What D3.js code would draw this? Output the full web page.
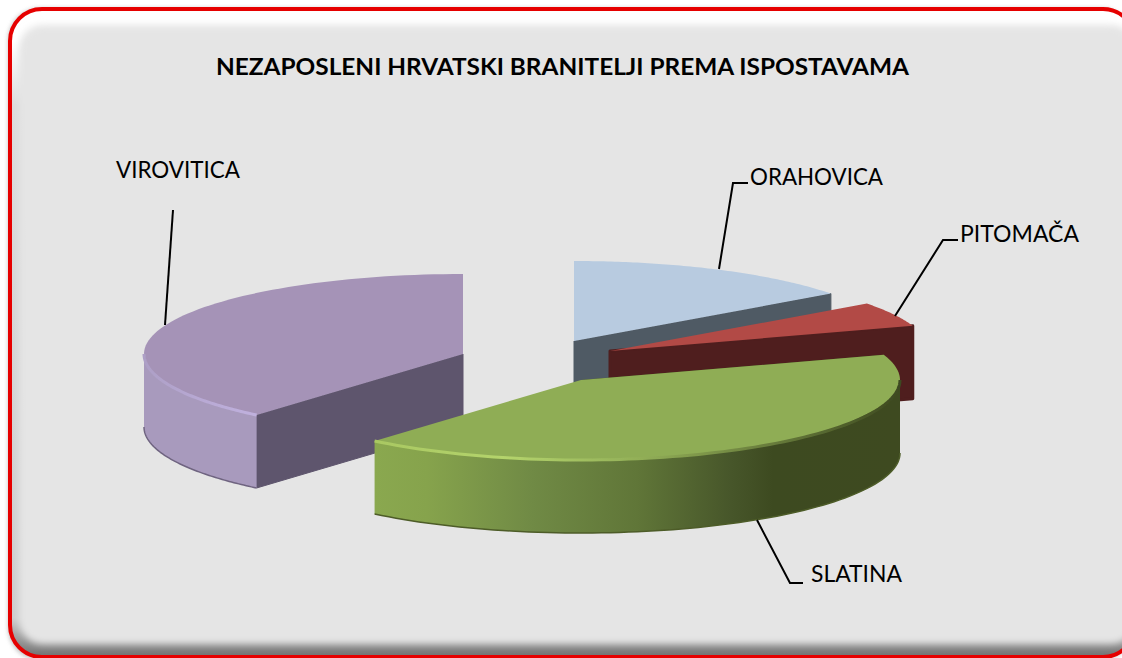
<!DOCTYPE html>
<html>
<head>
<meta charset="utf-8">
<script src="https://cdn.jsdelivr.net/npm/d3@7"></script>
<style>
html, body { margin: 0; padding: 0; background: #fff; overflow: hidden; }
text { font-family: Lato, "Open Sans", sans-serif; fill: #000; }
</style>
</head>
<body>
<div id="chart"></div>
<script>
var w = 1122;
var h = 658;

var chartTitle = "NEZAPOSLENI HRVATSKI BRANITELJI PREMA ISPOSTAVAMA";
var labels = ["ORAHOVICA", "PITOMAČA", "SLATINA", "VIROVITICA"];
var values = [149, 50, 413, 388];

// colours per slice
var topColor = ["#b8cbe0", "#b24a46", "#8fad55", "#a593b7"];
var cutColor = ["#4f5a64", "#4f1e1e", "#3e4a20", "#5e556d"];
var rimColor = ["#8fa0b3", "#8c3a38", "url(#rimGreen)", "#a89abd"];
var rimEdge = ["#5f6b78", "#4f1e1e", "#4d5c28", "#6f6480"];

// layout of the exploded tilted pie
var rx = 319;
var ry = 80;
var depth = 73;
var centres = [[574, 341], [610, 351], [581, 380], [463, 354]];
var faceStroke = [1, 3, 0, 1];
var drawOrder = [3, 0, 1, 2];

var labelPos = [[750, 185], [960, 242], [811, 582], [116, 178]];
var labelWidth = [133, 119, 91, 124];
var leaders = [
	[[748, 183], [733, 183], [719, 269]],
	[[958, 240], [943, 240], [895, 316]],
	[[803, 583], [790, 583], [757, 520]],
	[[173, 210], [165, 325]]
];

var svg = d3.select("#chart")
	.append("svg")
	.attr("width", w)
	.attr("height", h)
	.style("display", "block");

var defs = svg.append("defs");

var blur = defs.append("filter").attr("id", "soft")
	.attr("x", "-5%").attr("y", "-5%").attr("width", "110%").attr("height", "110%");
blur.append("feGaussianBlur").attr("stdDeviation", 3.5);

var blurOuter = defs.append("filter").attr("id", "softOuter")
	.attr("x", "-5%").attr("y", "-5%").attr("width", "110%").attr("height", "110%");
blurOuter.append("feGaussianBlur").attr("stdDeviation", 2);

var blurBevel = defs.append("filter").attr("id", "softBevel")
	.attr("x", "-5%").attr("y", "-20%").attr("width", "110%").attr("height", "140%");
blurBevel.append("feGaussianBlur").attr("stdDeviation", 0.7);

function addGradient(id, x1, x2, stops) {
	var g = defs.append("linearGradient")
		.attr("id", id)
		.attr("gradientUnits", "userSpaceOnUse")
		.attr("x1", x1).attr("x2", x2)
		.attr("y1", 0).attr("y2", 0);
	stops.forEach(function (s) {
		g.append("stop").attr("offset", s[0]).attr("stop-color", s[1]);
	});
}

addGradient("rimGreen", 375, 899, [
	[0, "#8aa84f"], [0.1, "#86a34c"], [0.3, "#708a45"], [0.5, "#607638"],
	[0.68, "#47562a"], [0.76, "#3d4a20"], [1, "#3e4a20"]
]);
addGradient("bevelGreen", 375, 899, [
	[0, "#a9c862"], [0.25, "#b4d46c"], [0.5, "#93b058"], [1, "#3e4a20"]
]);
addGradient("bevelPurple", 144, 258, [
	[0, "#ad9fc6"], [0.5, "#b8a9d4"], [1, "#c0b1de"]
]);

var frameBack = defs.append("linearGradient")
	.attr("id", "frameBack")
	.attr("x1", 0).attr("x2", 0).attr("y1", 0).attr("y2", 1);
frameBack.append("stop").attr("offset", 0).attr("stop-color", "#ffffff");
frameBack.append("stop").attr("offset", 0.05).attr("stop-color", "#ffffff");
frameBack.append("stop").attr("offset", 0.15).attr("stop-color", "#dcdcdc");
frameBack.append("stop").attr("offset", 0.94).attr("stop-color", "#cdcdcd");
frameBack.append("stop").attr("offset", 1).attr("stop-color", "#707070");

defs.append("clipPath").attr("id", "frameClip")
	.append("rect")
	.attr("x", 10).attr("y", 9).attr("width", 1125).attr("height", 648).attr("rx", 32);

// frame
svg.append("rect")
	.attr("x", 8).attr("y", 8).attr("width", 1125).attr("height", 652).attr("rx", 32)
	.attr("fill", "#999")
	.attr("opacity", 0.6)
	.attr("filter", "url(#softOuter)");

svg.append("rect")
	.attr("x", 10).attr("y", 9).attr("width", 1125).attr("height", 648).attr("rx", 32)
	.attr("fill", "url(#frameBack)");

svg.append("g")
	.attr("clip-path", "url(#frameClip)")
	.append("rect")
	.attr("x", 19).attr("y", 25).attr("width", 1116).attr("height", 619).attr("rx", 24)
	.attr("fill", "#e5e5e5")
	.attr("filter", "url(#soft)");

svg.append("rect")
	.attr("x", 10).attr("y", 9).attr("width", 1125).attr("height", 648).attr("rx", 32)
	.attr("fill", "none")
	.attr("stroke", "#e60000")
	.attr("stroke-width", 4);

// title
svg.append("text")
	.attr("x", 216)
	.attr("y", 75)
	.attr("font-size", 23)
	.attr("font-weight", 700)
	.attr("textLength", 693)
	.attr("lengthAdjust", "spacingAndGlyphs")
	.text(chartTitle);

// pie
var pie = d3.pie().sort(null).value(function (d) { return d; });
var arcs = pie(values);

function point(i, angle, drop) {
	var c = centres[i];
	var sx = d3.scaleLinear().domain([-1, 1]).range([c[0] - rx, c[0] + rx]);
	var sy = d3.scaleLinear().domain([-1, 1]).range([c[1] + ry, c[1] - ry]);
	return [sx(Math.sin(angle)), sy(Math.cos(angle)) + drop];
}

function arcPoints(i, a0, a1, drop) {
	var n = 80;
	return d3.range(n + 1).map(function (k) {
		return point(i, a0 + (a1 - a0) * k / n, drop);
	});
}

var line = d3.line();
var closedLine = d3.line().curve(d3.curveLinearClosed);

var pieG = svg.append("g");

drawOrder.forEach(function (i) {
	var d = arcs[i];
	var g = pieG.append("g").attr("class", "slice");
	var apex = centres[i];

	// only the cut facing us is seen, and a cut at 12 o'clock has no area
	var a = d.endAngle > Math.PI * 1.9 ? d.startAngle : d.endAngle;
	if (a > Math.PI && i === 2) a = d.startAngle;
	g.append("path")
		.attr("d", closedLine([apex, point(i, a, 0), point(i, a, depth), [apex[0], apex[1] + depth]]))
		.attr("fill", cutColor[i])
		.attr("stroke", cutColor[i])
		.attr("stroke-width", faceStroke[i])
		.attr("stroke-linejoin", "round");

	// outer rim, only the part turned towards us
	var a0 = Math.max(d.startAngle, Math.PI / 2);
	var a1 = Math.min(d.endAngle, Math.PI * 1.5);
	if (a1 > a0) {
		var rimTop = arcPoints(i, a0, a1, 0);
		var rimBottom = arcPoints(i, a1, a0, depth);
		g.append("path")
			.attr("d", closedLine(rimTop.concat(rimBottom)))
			.attr("fill", rimColor[i]);
		g.append("path")
			.attr("d", line(rimBottom))
			.attr("fill", "none")
			.attr("stroke", rimEdge[i])
			.attr("stroke-width", 1.5);
	}

	// top face
	g.append("path")
		.attr("d", closedLine([apex].concat(arcPoints(i, d.startAngle, d.endAngle, 0))))
		.attr("fill", topColor[i]);

	// bevel along the front edge
	if (a1 > a0) {
		g.append("path")
			.attr("d", line(arcPoints(i, a0, a1, 0)))
			.attr("fill", "none")
			.attr("stroke", i === 2 ? "url(#bevelGreen)" : "url(#bevelPurple)")
			.attr("stroke-width", 3)
			.attr("filter", "url(#softBevel)");
	}
});

// leader lines
svg.append("g")
	.selectAll("path")
	.data(leaders)
	.enter()
	.append("path")
	.attr("d", function (d) { return line(d); })
	.attr("fill", "none")
	.attr("stroke", "#000")
	.attr("stroke-width", 2);

// labels
svg.append("g")
	.selectAll("text")
	.data(labels)
	.enter()
	.append("text")
	.attr("x", function (d, i) { return labelPos[i][0]; })
	.attr("y", function (d, i) { return labelPos[i][1]; })
	.attr("font-size", 23)
	.attr("textLength", function (d, i) { return labelWidth[i]; })
	.attr("lengthAdjust", "spacingAndGlyphs")
	.text(function (d) { return d; });
</script>
</body>
</html>
